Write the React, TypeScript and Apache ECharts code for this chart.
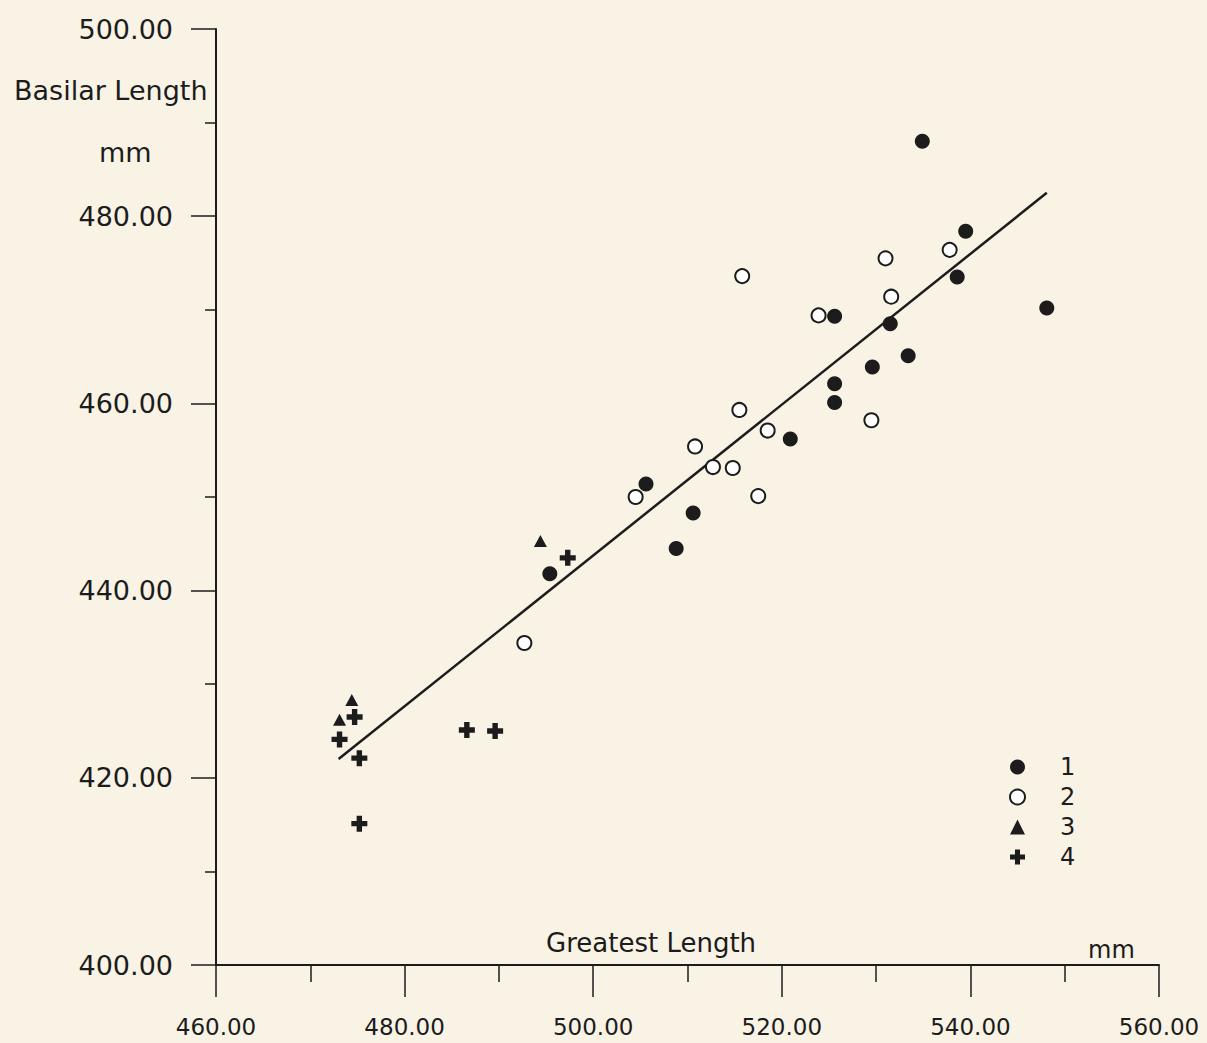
import React, { useEffect, useRef } from "react";
import * as echarts from "echarts";

// Group 1 (filled circles): [greatest length, basilar length]
const group1: number[][] = [
  [505.6, 451.4], [510.6, 448.3], [508.8, 444.5], [495.4, 441.8], [520.9, 456.2],
  [534.9, 488.0], [539.5, 478.4], [538.6, 473.5], [548.1, 470.2], [525.6, 469.3],
  [531.5, 468.5], [533.4, 465.1], [529.6, 463.9], [525.6, 462.1], [525.6, 460.1],
];
// Group 2 (open circles)
const group2: number[][] = [
  [492.7, 434.4], [504.5, 450.0], [510.8, 455.4], [512.7, 453.2], [514.8, 453.1],
  [517.5, 450.1], [518.5, 457.1], [515.5, 459.3], [515.8, 473.6], [537.8, 476.4],
  [531.0, 475.5], [531.6, 471.4], [523.9, 469.4], [529.5, 458.2],
];
// Group 3 (triangles)
const group3: number[][] = [
  [474.4, 428.3], [473.1, 426.2], [494.4, 445.3],
];
// Group 4 (crosses)
const group4: number[][] = [
  [474.7, 426.5], [473.1, 424.1], [475.2, 422.1], [475.2, 415.1],
  [486.6, 425.1], [489.6, 425.0], [497.3, 443.5],
];
// Regression line end points
const regression: number[][] = [
  [473.0, 422.0], [548.1, 482.5],
];
const groupNames = ["1", "2", "3", "4"];

const INK = "#1c1c1c";
const FONT = "DejaVu Sans";
const PLUS = "path://M-2.7,-8H2.7V-2.7H8V2.7H2.7V8H-2.7V2.7H-8V-2.7H-2.7Z";

export default function App() {
  const ref = useRef<HTMLDivElement>(null);
  useEffect(() => {
    if (!ref.current) return;
    const chart = echarts.init(ref.current, null, { renderer: "svg" });
    chart.setOption({
      animation: false,
      backgroundColor: "#f8f3e4",
      grid: { left: 216, right: 48, top: 29, bottom: 78 },
      xAxis: {
        type: "value",
        min: 460,
        max: 560,
        interval: 20,
        axisLine: { show: true, lineStyle: { color: INK, width: 2 } },
        axisTick: { show: true, inside: false, length: 32, lineStyle: { color: INK, width: 1.5 } },
        minorTick: { show: true, splitNumber: 2, length: 17, lineStyle: { color: INK, width: 1.5 } },
        splitLine: { show: false },
        minorSplitLine: { show: false },
        axisLabel: {
          margin: 50,
          fontFamily: FONT,
          fontSize: 23,
          color: INK,
          formatter: (v: number) => v.toFixed(2),
        },
      },
      yAxis: {
        type: "value",
        min: 400,
        max: 500,
        interval: 20,
        axisLine: { show: true, lineStyle: { color: INK, width: 2 } },
        axisTick: { show: true, inside: false, length: 25, lineStyle: { color: INK, width: 1.5 } },
        minorTick: { show: true, splitNumber: 2, length: 11, lineStyle: { color: INK, width: 1.5 } },
        splitLine: { show: false },
        minorSplitLine: { show: false },
        axisLabel: {
          margin: 43,
          fontFamily: FONT,
          fontSize: 27,
          color: INK,
          formatter: (v: number) => v.toFixed(2),
        },
      },
      legend: {
        data: groupNames,
        orient: "vertical",
        left: 1004,
        top: 750,
        itemWidth: 15,
        itemHeight: 15,
        itemGap: 6,
        textStyle: { fontFamily: FONT, fontSize: 24, color: INK, padding: [0, 0, 0, 30] },
      },
      graphic: [
        { type: "text", left: 14, top: 77, style: { text: "Basilar Length", font: `27px '${FONT}'`, fill: INK } },
        { type: "text", left: 99, top: 139, style: { text: "mm", font: `27px '${FONT}'`, fill: INK } },
        { type: "text", left: 546, top: 930, style: { text: "Greatest Length", font: `26px '${FONT}'`, fill: INK } },
        { type: "text", left: 1088, top: 938, style: { text: "mm", font: `24px '${FONT}'`, fill: INK } },
      ],
      series: [
        {
          name: "fit",
          type: "line",
          data: regression,
          showSymbol: false,
          symbol: "none",
          lineStyle: { color: INK, width: 2.5 },
          silent: true,
          z: 1,
        },
        {
          name: groupNames[0],
          type: "scatter",
          data: group1,
          symbol: "circle",
          symbolSize: 15,
          itemStyle: { color: INK, opacity: 1 },
          z: 3,
        },
        {
          name: groupNames[1],
          type: "scatter",
          data: group2,
          symbol: "emptyCircle",
          symbolSize: 14,
          itemStyle: { color: INK, borderColor: INK, borderWidth: 2, opacity: 1 },
          z: 3,
        },
        {
          name: groupNames[2],
          type: "scatter",
          data: group3,
          symbol: "triangle",
          symbolSize: [13, 12],
          itemStyle: { color: INK, opacity: 1 },
          z: 3,
        },
        {
          name: groupNames[3],
          type: "scatter",
          data: group4,
          symbol: PLUS,
          symbolSize: 16,
          itemStyle: { color: INK, opacity: 1 },
          z: 3,
        },
      ],
    });
    return () => chart.dispose();
  }, []);
  return (
    <div
      ref={ref}
      style={{ position: "fixed", left: 0, top: 0, width: 1207, height: 1043 }}
    />
  );
}
